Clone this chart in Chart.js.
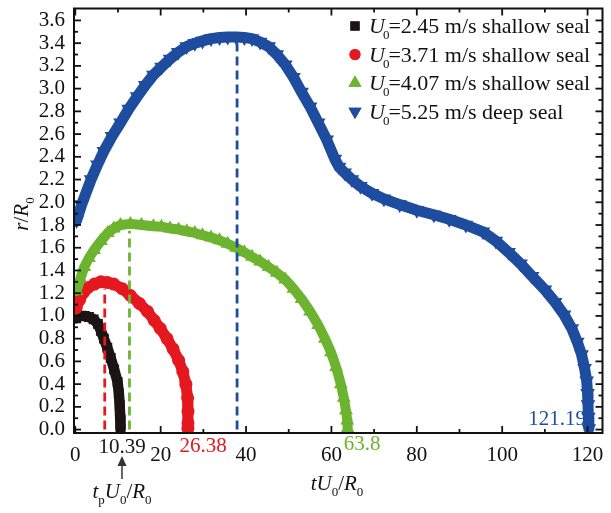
<!DOCTYPE html>
<html><head><meta charset="utf-8">
<script src="https://cdn.jsdelivr.net/npm/chart.js@4.4.1/dist/chart.umd.min.js"></script>
<style>html,body{margin:0;padding:0;background:#fff;}#wrap{width:611px;height:513px;position:relative;}</style>
</head><body><div id="wrap"><canvas id="c" width="611" height="513"></canvas></div>
<script>
// ---- data ----
const blackX=[0.2,1.2,2.2,3.2,4.3,5.3,6.0,6.7,7.5,8.3,9.1,9.9,10.2,10.4,10.5,10.6];
const blackY=[0.98,1.0,1.0,0.99,0.97,0.93,0.87,0.80,0.72,0.63,0.53,0.42,0.32,0.22,0.12,0.01];
const redX=[0.2,1.0,2.0,3.0,4.5,6.0,7.5,9.0,11.0,12.9,15.0,16.9,18.5,19.9,21.5,22.9,24.2,25.2,25.9,26.3,26.4,26.4,26.38];
const redY=[1.07,1.14,1.21,1.25,1.28,1.30,1.295,1.28,1.24,1.18,1.11,1.04,0.96,0.89,0.80,0.71,0.61,0.51,0.40,0.28,0.16,0.06,0.01];
const greenX=[0.3,1.2,2.1,3.2,4.4,6.0,7.6,9.0,10.6,12.9,15.5,18.3,20.2,22.2,24.2,26.1,28.0,29.8,31.8,33.8,35.7,37.7,39.6,41.4,43.3,45.3,47.2,49.2,51.1,53.0,55.0,56.9,58.5,59.9,61.1,62.2,62.9,63.4,63.7,63.8];
const greenY=[1.22,1.33,1.43,1.51,1.58,1.66,1.73,1.77,1.80,1.81,1.80,1.79,1.785,1.77,1.76,1.745,1.73,1.71,1.69,1.665,1.635,1.60,1.56,1.52,1.48,1.43,1.38,1.32,1.24,1.15,1.04,0.92,0.80,0.68,0.55,0.40,0.28,0.17,0.08,0.01];
const blueX=[0.3,1.5,3.7,5.2,6.7,8.6,10.6,12.5,14.5,16.4,18.3,20.2,22.2,24.1,26.1,28.0,29.8,31.8,33.8,35.7,37.7,39.6,41.4,43.3,45.3,47.2,49.2,51.1,53.0,55.0,56.9,58.9,60.8,61.8,63.1,64.8,66.8,69.5,72.3,76.0,80.0,84.0,87.6,91.5,95.5,98.5,101.5,104.3,107.0,110.0,112.4,114.5,116.3,117.6,118.6,119.3,119.8,120.0,120.1,120.2,120.3];
const blueY=[1.84,1.98,2.20,2.33,2.45,2.58,2.70,2.82,2.93,3.03,3.12,3.19,3.26,3.32,3.37,3.40,3.42,3.44,3.45,3.455,3.455,3.45,3.44,3.41,3.37,3.30,3.21,3.10,2.97,2.84,2.70,2.55,2.38,2.31,2.26,2.20,2.14,2.08,2.03,1.98,1.93,1.89,1.85,1.80,1.74,1.66,1.56,1.46,1.35,1.23,1.12,1.01,0.89,0.77,0.66,0.54,0.43,0.32,0.22,0.11,0.01];
// peak / critical-time dashed markers (x, top y)
const dashX=[6.9,12.7,37.9];
const dashTop=[1.24,1.75,3.40];
// tick values and labels
const xTicks=[0,20,40,60,80,100,120];
const xTickLabels=['0','20','40','60','80','100','120'];
const xMinor=[10,30,50,70,90,110];
const yTicks=[0,0.2,0.4,0.6,0.8,1.0,1.2,1.4,1.6,1.8,2.0,2.2,2.4,2.6,2.8,3.0,3.2,3.4,3.6];
const yTickLabels=['0.0','0.2','0.4','0.6','0.8','1.0','1.2','1.4','1.6','1.8','2.0','2.2','2.4','2.6','2.8','3.0','3.2','3.4','3.6'];
const yMinor=[0.1,0.3,0.5,0.7,0.9,1.1,1.3,1.5,1.7,1.9,2.1,2.3,2.5,2.7,2.9,3.1,3.3,3.5];
const legendValues=['=2.45 m/s shallow seal','=3.71 m/s shallow seal','=4.07 m/s shallow seal','=5.25 m/s deep seal'];
const endLabels=['10.39','26.38','63.8','121.19'];

const C_BLACK='#1c1414', C_RED='#e5181f', C_GREEN='#6cb42f', C_BLUE='#1e4c9e';
const FF='"Liberation Serif","Times New Roman",serif';
const FS=21, FL=22, FSUB=13;

function pts(xs,ys){return xs.map((x,i)=>({x:x,y:ys[i]}));}
function series(label,xs,ys,color,style,radius,rotation,order,bw){
  return {label:label,data:pts(xs,ys),showLine:true,borderColor:color,backgroundColor:color,
    borderWidth:bw,borderJoinStyle:'round',borderCapStyle:'round',tension:0,
    pointStyle:style,pointRadius:radius,pointRotation:rotation,pointBorderWidth:0,
    pointBackgroundColor:color,pointHoverRadius:radius,order:order};
}
function dash(i,color){
  return {label:'dash'+i,data:[{x:dashX[i],y:0},{x:dashX[i],y:dashTop[i]}],showLine:true,
    borderColor:color,borderWidth:2.8,borderDash:[9,5],pointRadius:0,order:0};
}
const datasets=[
  series('U0'+legendValues[0],blackX,blackY,C_BLACK,'rect',7,0,4,10.5),
  series('U0'+legendValues[1],redX,redY,C_RED,'circle',6.5,0,3,11),
  series('U0'+legendValues[2],greenX,greenY,C_GREEN,'triangle',8,0,2,10),
  series('U0'+legendValues[3],blueX,blueY,C_BLUE,'triangle',8.5,180,1,11),
  dash(0,C_RED),dash(1,C_GREEN),dash(2,C_BLUE)
];

function richText(ctx,segs,x,y,align){
  let w=0;
  segs.forEach(s=>{ctx.font=s.font;s.w=ctx.measureText(s.t).width+(s.dx||0);w+=s.w;});
  let cx=align==='center'?x-w/2:x;
  segs.forEach(s=>{ctx.font=s.font;ctx.fillText(s.t,cx,y+(s.dy||0));cx+=s.w;});
}
const it=(n)=>'italic '+n+'px '+FF, rm=(n)=>n+'px '+FF;

const framePlugin={id:'frame',afterDatasetsDraw(chart){
  const ctx=chart.ctx,a=chart.chartArea,x=chart.scales.x,y=chart.scales.y;
  ctx.save();ctx.strokeStyle='#111';ctx.lineWidth=2;
  ctx.strokeRect(a.left,a.top,a.right-a.left,a.bottom-a.top);
  ctx.lineWidth=1.8;
  const L=(x1,y1,x2,y2)=>{ctx.beginPath();ctx.moveTo(x1,y1);ctx.lineTo(x2,y2);ctx.stroke();};
  xTicks.forEach(v=>{const p=x.getPixelForValue(v);L(p,a.bottom,p,a.bottom-7);L(p,a.top,p,a.top+7);});
  xMinor.forEach(v=>{const p=x.getPixelForValue(v);L(p,a.bottom,p,a.bottom-4);L(p,a.top,p,a.top+4);});
  yTicks.forEach(v=>{const p=y.getPixelForValue(v);L(a.left,p,a.left+7,p);L(a.right,p,a.right-7,p);});
  yMinor.forEach(v=>{const p=y.getPixelForValue(v);L(a.left,p,a.left+4,p);L(a.right,p,a.right-4,p);});
  ctx.restore();
}};

const textPlugin={id:'texts',afterDraw(chart){
  const ctx=chart.ctx;
  ctx.save();ctx.textBaseline='alphabetic';ctx.textAlign='left';
  // legend
  const cols=[C_BLACK,C_RED,C_GREEN,C_BLUE];
  const rowY=[26,54.5,83,111.5];
  const lr=[6.5,5.5,7.5,7.5];
  for(let i=0;i<4;i++){
    const ds=datasets[i],mx=355,my=rowY[i];
    ctx.fillStyle=cols[i];
    Chart.helpers.drawPoint(ctx,{pointStyle:ds.pointStyle,radius:lr[i],rotation:ds.pointRotation,borderWidth:0},mx,my);
    ctx.fill();
    ctx.fillStyle='#111';
    richText(ctx,[{t:'U',font:it(FL),dx:-2},{t:'0',font:rm(FSUB),dy:6,dx:-1},{t:legendValues[i],font:rm(FL)}],369,my+7,'left');
  }
  // end labels
  ctx.font=rm(FS);ctx.textAlign='center';
  ctx.fillStyle=C_BLACK;ctx.fillText(endLabels[0],122,453);
  ctx.fillStyle=C_RED;ctx.fillText(endLabels[1],203,452);
  ctx.fillStyle=C_GREEN;ctx.fillText(endLabels[2],362,450);
  ctx.fillStyle=C_BLUE;ctx.fillText(endLabels[3],557,425);
  // arrow
  ctx.fillStyle='#333';ctx.strokeStyle='#333';ctx.lineWidth=1.5;
  ctx.beginPath();ctx.moveTo(122,464);ctx.lineTo(122,479);ctx.stroke();
  ctx.beginPath();ctx.moveTo(122,456);ctx.lineTo(117.5,466);ctx.lineTo(126.5,466);ctx.closePath();ctx.fill();
  // axis titles
  ctx.fillStyle='#111';ctx.textAlign='left';
  richText(ctx,[{t:'t',font:it(FS)},{t:'p',font:rm(FSUB),dy:6},{t:'U',font:it(FS)},{t:'0',font:rm(FSUB),dy:6},{t:'/',font:rm(FS)},{t:'R',font:it(FS)},{t:'0',font:rm(FSUB),dy:6}],122,498,'center');
  richText(ctx,[{t:'t',font:it(FS)},{t:'U',font:it(FS)},{t:'0',font:rm(FSUB),dy:6},{t:'/',font:rm(FS)},{t:'R',font:it(FS)},{t:'0',font:rm(FSUB),dy:6}],337,490,'center');
  ctx.save();ctx.translate(28,214);ctx.rotate(-Math.PI/2);
  richText(ctx,[{t:'r',font:it(FS)},{t:'/',font:rm(FS)},{t:'R',font:it(FS)},{t:'0',font:rm(FSUB),dy:6}],0,0,'center');
  ctx.restore();
  ctx.restore();
}};

new Chart(document.getElementById('c'),{
  type:'scatter',
  data:{datasets:datasets},
  options:{
    responsive:false,devicePixelRatio:1,animation:false,events:[],
    layout:{padding:{top:4,right:3,left:0,bottom:0}},
    plugins:{legend:{display:false},tooltip:{enabled:false}},
    scales:{
      x:{type:'linear',min:-0.3,max:123.5,
        afterFit:s=>{s.height=80;s.paddingLeft=0;s.paddingRight=0;},
        afterBuildTicks:s=>{s.ticks=xTicks.map(v=>({value:v}));},
        grid:{display:false,drawTicks:false},border:{display:false},
        ticks:{autoSkip:false,maxRotation:0,padding:10,color:'#111',font:{family:FF,size:FS},
          callback:(v)=>{const i=xTicks.indexOf(v);return i>=0?xTickLabels[i]:'';}}},
      y:{type:'linear',min:-0.03,max:3.705,
        afterFit:s=>{s.width=74;s.paddingTop=0;s.paddingBottom=0;},
        afterBuildTicks:s=>{s.ticks=yTicks.map(v=>({value:v}));},
        grid:{display:false,drawTicks:false},border:{display:false},
        ticks:{autoSkip:false,padding:9,color:'#111',font:{family:FF,size:FS},
          callback:(v)=>{const i=yTicks.findIndex(t=>Math.abs(t-v)<1e-9);return i>=0?yTickLabels[i]:'';}}}
    }
  },
  plugins:[framePlugin,textPlugin]
});
</script></body></html>
